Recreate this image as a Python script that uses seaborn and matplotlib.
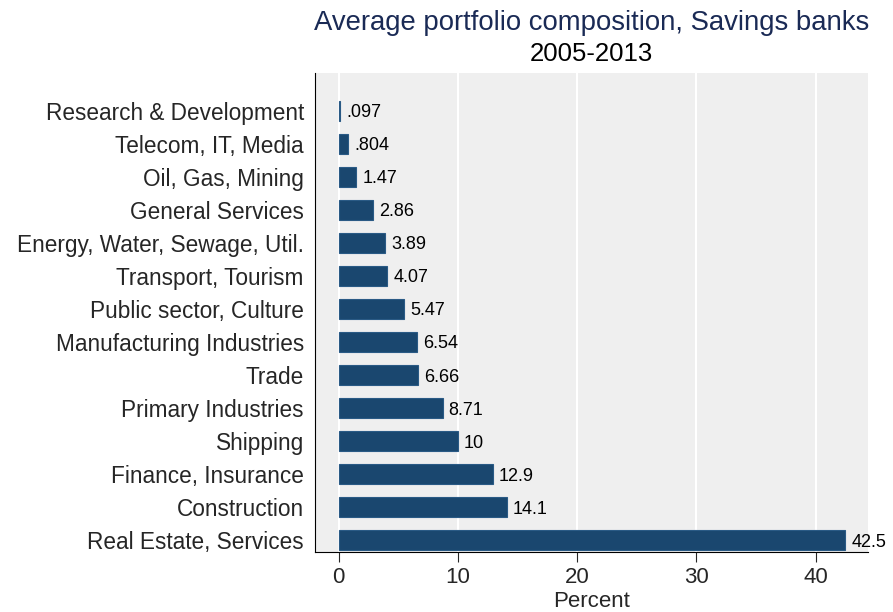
import matplotlib
matplotlib.use('Agg')
import matplotlib.pyplot as plt
import seaborn as sns
import pandas as pd

# Данные
sectors = ['Research & Development', 'Telecom, IT, Media', 'Oil, Gas, Mining',
           'General Services', 'Energy, Water, Sewage, Util.', 'Transport, Tourism',
           'Public sector, Culture', 'Manufacturing Industries', 'Trade',
           'Primary Industries', 'Shipping', 'Finance, Insurance', 'Construction',
           'Real Estate, Services']
shares = [0.097, 0.804, 1.47, 2.86, 3.89, 4.07, 5.47, 6.54, 6.66, 8.71, 10, 12.9, 14.1, 42.5]
value_labels = ['.097', '.804', '1.47', '2.86', '3.89', '4.07', '5.47', '6.54',
                '6.66', '8.71', '10', '12.9', '14.1', '42.5']

df = pd.DataFrame({'sector': sectors, 'share': shares})

sns.set_style('white')
plt.rcParams['font.family'] = ['Liberation Sans', 'DejaVu Sans']

fig = plt.figure(figsize=(8.93, 6.12), dpi=100)
ax = fig.add_axes([0.3527, 0.098, 0.6193, 0.783])
ax.set_facecolor('#efefef')

bar_color = '#1a476f'
sns.barplot(data=df, x='share', y='sector', color=bar_color, width=0.62,
            saturation=1, edgecolor='#2a5a85', linewidth=0.8, ax=ax, zorder=3)

# подписи значений
for i, (v, lab) in enumerate(zip(shares, value_labels)):
    ax.text(v + 0.5, i, lab, va='center_baseline', ha='left', fontsize=13, color='black')

ax.set_xlim(-2, 44.4)
ax.set_ylim(13.36, -1.15)
ax.set_xticks([0, 10, 20, 30, 40])
ax.grid(axis='x', color='white', linewidth=1.5, zorder=0)
ax.set_axisbelow(True)

for s in ['top', 'right']:
    ax.spines[s].set_visible(False)
ax.spines['left'].set_color('black')
ax.spines['bottom'].set_color('black')
ax.spines['left'].set_linewidth(0.8)
ax.spines['bottom'].set_linewidth(0.8)

ax.tick_params(axis='x', length=7, width=0.8, labelsize=16, bottom=True, pad=4)
ax.tick_params(axis='y', length=0, labelsize=16.3, pad=8)
ax.set_xlabel('Percent', fontsize=16, labelpad=2)
ax.set_ylabel('')

fig.text(0.6624, 0.962, 'Average portfolio composition, Savings banks',
         ha='center', va='center', fontsize=19.8, color='#1a2a55')
fig.text(0.6624, 0.912, '2005-2013', ha='center', va='center', fontsize=18.5, color='black')

fig.savefig('out.png', dpi=100)
